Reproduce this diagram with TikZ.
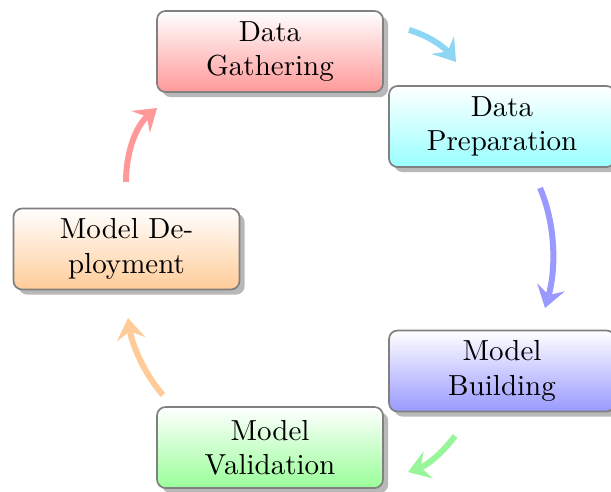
\documentclass[tikz,border=0pt]{standalone}
\usetikzlibrary{shadows,arrows.meta}

\definecolor{arrCyan}{RGB}{142,214,245}
\definecolor{arrBlue}{RGB}{153,153,255}
\definecolor{arrGreen}{RGB}{153,245,153}
\definecolor{arrOrange}{RGB}{255,204,153}
\definecolor{arrRed}{RGB}{255,153,153}

\tikzset{
  stage/.style={rectangle, rounded corners=3pt, draw=gray, line width=0.6pt,
    minimum width=79.1pt, minimum height=28.35pt, inner sep=0pt,
    align=center, top color=white, bottom color=#1,
    font=\fontsize{10.15}{12}\selectfont,
    drop shadow={shadow xshift=1.8pt, shadow yshift=-1.8pt, fill=black!28, opacity=1}},
  flow/.style={draw=#1, line width=2.1pt,
    -{Stealth[length=7.5pt,width=10pt,inset=2.8pt]}}
}

\begin{document}
\begin{tikzpicture}[x=0.35pt, y=-0.35pt]
  \useasboundingbox (0,0) rectangle (611,491);

  % process stages
  \node[stage=red!40]    (gather) at (270,51.5)  {Data\\Gathering};
  \node[stage=cyan!40]   (prep)   at (502,126.5) {Data\\Preparation};
  \node[stage=blue!40]   (build)  at (502,371)   {Model\\Building};
  \node[stage=green!40]  (valid)  at (270,447.5) {Model\\Validation};
  \node[stage=orange!40] (deploy) at (126.5,249) {Model De-\\ployment};

  % arrow end points between the stages
  \coordinate (a1s) at (409,30);   \coordinate (a1e) at (456,62);
  \coordinate (a2s) at (540,188);  \coordinate (a2e) at (545,308);
  \coordinate (a3s) at (455,436);  \coordinate (a3e) at (408,472);
  \coordinate (a4s) at (163,395);  \coordinate (a4e) at (128,318);
  \coordinate (a5s) at (126,182);  \coordinate (a5e) at (157,108);

  \draw[flow=arrCyan]   (a1s) .. controls (430,36) and (445,48) .. (a1e);
  \draw[flow=arrBlue]   (a2s) .. controls (556,225) and (556,270) .. (a2e);
  \draw[flow=arrGreen]  (a3s) .. controls (443,452) and (428,465) .. (a3e);
  \draw[flow=arrOrange] (a4s) .. controls (145,375) and (132,345) .. (a4e);
  \draw[flow=arrRed]    (a5s) .. controls (126,150) and (137,125) .. (a5e);
\end{tikzpicture}
\end{document}
